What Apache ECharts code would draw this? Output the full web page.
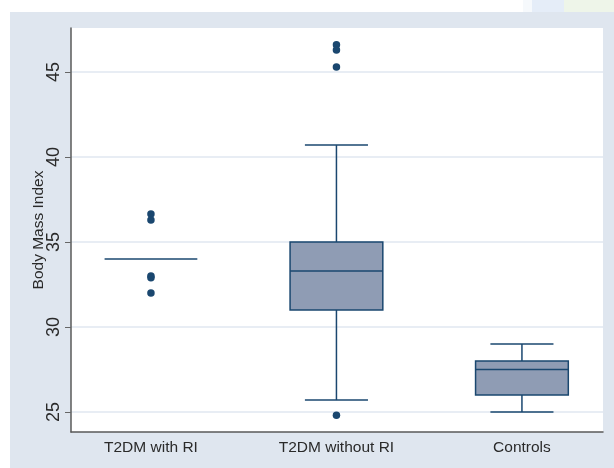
<!DOCTYPE html>
<html><head><meta charset="utf-8">
<script src="https://cdn.jsdelivr.net/npm/echarts@6/dist/echarts.min.js"></script>
<style>html,body{margin:0;padding:0;background:#fff}#c{width:614px;height:468px}</style>
</head><body><div id="c"></div>
<script>
const categories = ['T2DM with RI', 'T2DM without RI', 'Controls'];
const categoryPos = [1, 2, 3];
const whiskerLow = [34, 25.7, 25];
const q1 = [34, 31, 26];
const median = [34, 33.3, 27.5];
const q3 = [34, 35, 28];
const whiskerHigh = [34, 40.7, 29];
const outlierGroup = [1, 1, 1, 1, 1, 2, 2, 2, 2];
const outlierValue = [36.65, 36.3, 33.0, 32.9, 32.0, 46.6, 46.3, 45.3, 24.8];
const yTicks = [25, 30, 35, 40, 45];

const navy = '#1a476f';
const boxFill = '#8f9cb4';

const chart = echarts.init(document.getElementById('c'), null, {renderer: 'canvas'});

function renderItem(params, api) {
  const x = api.value(0);
  const lo = api.value(1), a = api.value(2), m = api.value(3), b = api.value(4), hi = api.value(5);
  const unit = api.size([1, 0])[0];
  const hw = unit * 0.25, cw = unit * 0.17;
  const pLo = api.coord([x, lo]), pA = api.coord([x, a]), pM = api.coord([x, m]),
        pB = api.coord([x, b]), pHi = api.coord([x, hi]);
  const cx = pM[0];
  const st = {stroke: navy, lineWidth: 1.5, fill: null};
  const children = [];
  if (hi > lo) {
    children.push({type: 'line', shape: {x1: cx, y1: pHi[1], x2: cx, y2: pB[1]}, style: st});
    children.push({type: 'line', shape: {x1: cx, y1: pA[1], x2: cx, y2: pLo[1]}, style: st});
    children.push({type: 'line', shape: {x1: cx - cw, y1: pHi[1], x2: cx + cw, y2: pHi[1]}, style: st});
    children.push({type: 'line', shape: {x1: cx - cw, y1: pLo[1], x2: cx + cw, y2: pLo[1]}, style: st});
  }
  if (b > a) {
    children.push({type: 'rect', shape: {x: cx - hw, y: pB[1], width: 2 * hw, height: pA[1] - pB[1]},
      style: {fill: boxFill, stroke: navy, lineWidth: 1.5}});
  }
  children.push({type: 'line', shape: {x1: cx - hw, y1: pM[1], x2: cx + hw, y2: pM[1]}, style: st});
  return {type: 'group', children: children};
}

const boxData = categoryPos.map((p, i) => [p, whiskerLow[i], q1[i], median[i], q3[i], whiskerHigh[i]]);
const outlierData = outlierGroup.map((g, i) => [g, outlierValue[i]]);

chart.setOption({
  animation: false,
  backgroundColor: '#ffffff',
  graphic: [
    {type: 'rect', z: -100, shape: {x: 10, y: 12, width: 604, height: 456}, style: {fill: '#dfe6ef'}},
    {type: 'rect', z: -100, shape: {x: 523, y: 0, width: 9, height: 12}, style: {fill: '#f6f9fc'}},
    {type: 'rect', z: -100, shape: {x: 532, y: 0, width: 32, height: 12}, style: {fill: '#e5edf8'}},
    {type: 'rect', z: -100, shape: {x: 564, y: 0, width: 50, height: 12}, style: {fill: '#eef5e9'}}
  ],
  grid: {left: 71, right: 11, top: 28, bottom: 36, show: true, backgroundColor: '#ffffff', borderWidth: 0},
  xAxis: {
    type: 'value', min: 0.569, max: 3.437,
    axisLine: {show: true, lineStyle: {color: '#5a5a5a', width: 1.5}},
    axisTick: {show: false},
    splitLine: {show: false},
    axisLabel: {
      customValues: categoryPos,
      formatter: v => categories[categoryPos.indexOf(v)] || '',
      fontFamily: 'Liberation Sans, Arial, sans-serif', fontSize: 15.5, color: '#2a2a2a', margin: 8
    }
  },
  yAxis: {
    type: 'value', min: 23.82, max: 47.59,
    name: 'Body Mass Index', nameLocation: 'middle', nameRotate: 90, nameGap: 24,
    nameMoveOverlap: false,
    nameTextStyle: {fontFamily: 'Liberation Sans, Arial, sans-serif', fontSize: 15.5, color: '#2a2a2a'},
    axisLine: {show: true, lineStyle: {color: '#5a5a5a', width: 1.5}},
    axisTick: {show: true, customValues: yTicks, length: 6, lineStyle: {color: '#666', width: 1}},
    splitLine: {show: true, lineStyle: {color: '#e1e7f0', width: 1.5}},
    axisLabel: {
      customValues: yTicks, rotate: 90, margin: 8,
      fontFamily: 'Liberation Sans, Arial, sans-serif', fontSize: 18, color: '#2a2a2a'
    }
  },
  series: [
    {type: 'custom', renderItem: renderItem, data: boxData, encode: {x: 0, y: [1, 2, 3, 4, 5]}, z: 3},
    {type: 'scatter', data: outlierData, symbol: 'circle', symbolSize: 7.5,
      itemStyle: {color: navy, opacity: 1}, z: 4}
  ]
});
</script>
</body></html>
